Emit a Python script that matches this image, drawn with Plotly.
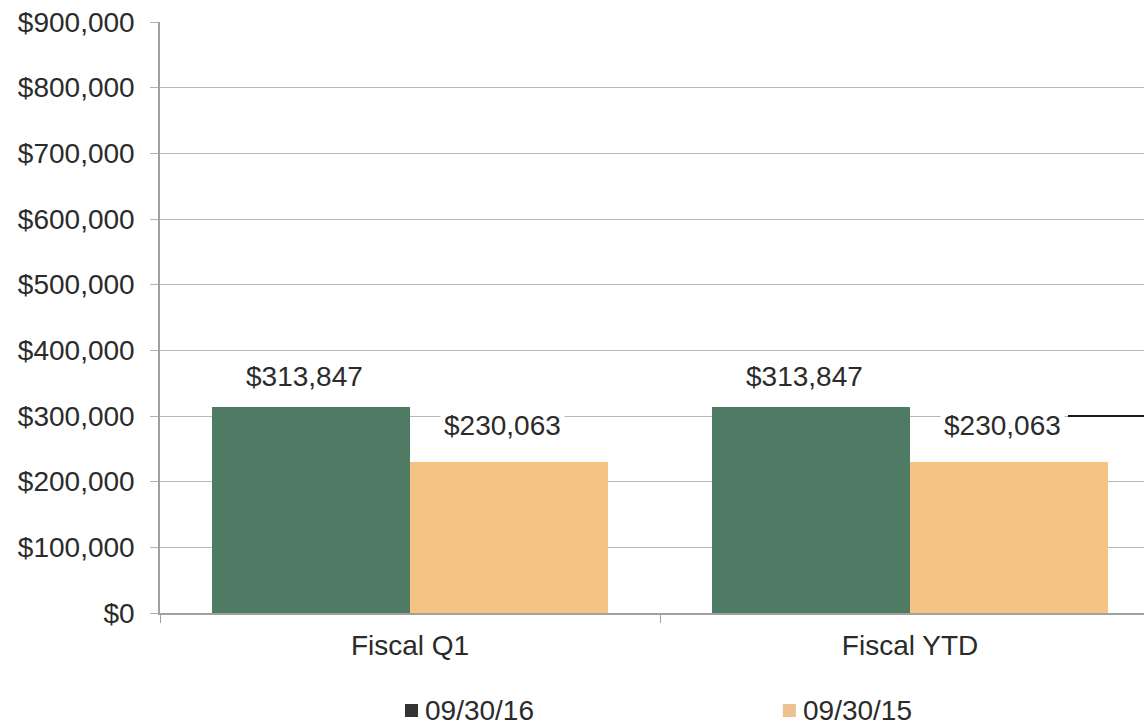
import plotly.graph_objects as go

categories = ["Fiscal Q1", "Fiscal YTD"]
series_names = ["09/30/16", "09/30/15"]
values_2016 = [313847, 313847]
values_2015 = [230063, 230063]
y_ticks = [0, 100000, 200000, 300000, 400000, 500000, 600000, 700000, 800000, 900000]

GREEN = "#4f7a63"
ORANGE = "#f6c482"
TEXT = "#2b2b2b"
FONT = "Liberation Sans, Arial, sans-serif"

W, H = 1144, 726
M = dict(l=160, r=0, t=22, b=113)
plot_w = W - M["l"] - M["r"]
cat_px = 500  # pixel width of one category slot
bargap = 0.208
bar_px = cat_px * (1 - bargap) / 2

fig = go.Figure()
fig.add_trace(go.Bar(x=categories, y=values_2016, name=series_names[0],
                     marker=dict(color=GREEN, line=dict(width=0)), showlegend=False))
fig.add_trace(go.Bar(x=categories, y=values_2015, name=series_names[1],
                     marker=dict(color=ORANGE, line=dict(width=0)), showlegend=False))

# value labels above each bar
for vals, side, lift in ((values_2016, -1, 30), (values_2015, 1, 36)):
    for cat, v in zip(categories, vals):
        fig.add_annotation(x=cat, y=v, xref="x", yref="y", text=f"${v:,.0f}",
                           showarrow=False, xshift=side * bar_px / 2 - 7, yshift=lift,
                           font=dict(size=28, color=TEXT, family=FONT),
                           bgcolor="white", borderpad=3, xanchor="center", yanchor="middle")

# dark stroke to the right of the last label
fig.add_shape(type="line", xref="x", yref="y", x0=1.316, x1=1.6,
              y0=300000, y1=300000, line=dict(color="#1a1a1a", width=2), layer="above")

# legend drawn below the axis
legend_items = [(series_names[0], "#333333", 0.496), (series_names[1], "#ecc38e", 0.880)]
for name, col, xc in legend_items:
    fig.add_shape(type="rect", xref="paper", yref="paper",
                  x0=(405 + (xc - 0.496) * plot_w - M["l"]) / plot_w,
                  x1=(418 + (xc - 0.496) * plot_w - M["l"]) / plot_w,
                  y0=(H - M["b"] - 717) / (H - M["t"] - M["b"]),
                  y1=(H - M["b"] - 704) / (H - M["t"] - M["b"]),
                  fillcolor=col, line=dict(width=0))
    fig.add_annotation(x=(423 + (xc - 0.496) * plot_w - M["l"]) / plot_w,
                       y=(H - M["b"] - 710) / (H - M["t"] - M["b"]),
                       xref="paper", yref="paper", text=name, showarrow=False,
                       xanchor="left", yanchor="middle",
                       font=dict(size=28, color=TEXT, family=FONT))

fig.update_layout(
    width=W, height=H, margin=M,
    paper_bgcolor="white", plot_bgcolor="white",
    barmode="group", bargap=bargap, bargroupgap=0,
    font=dict(family=FONT, size=28, color=TEXT),
)
fig.update_xaxes(
    type="category", range=[-0.5, -0.5 + plot_w / cat_px],
    showline=True, linecolor="#a0a0a0", linewidth=1.5,
    ticks="outside", tickson="boundaries", ticklen=8, tickcolor="#a0a0a0",
    showgrid=False, tickfont=dict(size=28, color=TEXT), fixedrange=True,
    ticklabelstandoff=7,
)
fig.update_yaxes(
    range=[0, 900000], tickvals=y_ticks, tickformat="$,.0f",
    showline=True, linecolor="#a0a0a0", linewidth=1.5,
    ticks="outside", ticklen=8, tickcolor="#b0b0b0",
    showgrid=True, gridcolor="#b8b8b8", gridwidth=1.3,
    zeroline=False, ticklabelstandoff=10,
    tickfont=dict(size=28, color=TEXT),
)

fig.write_html("out.html")
